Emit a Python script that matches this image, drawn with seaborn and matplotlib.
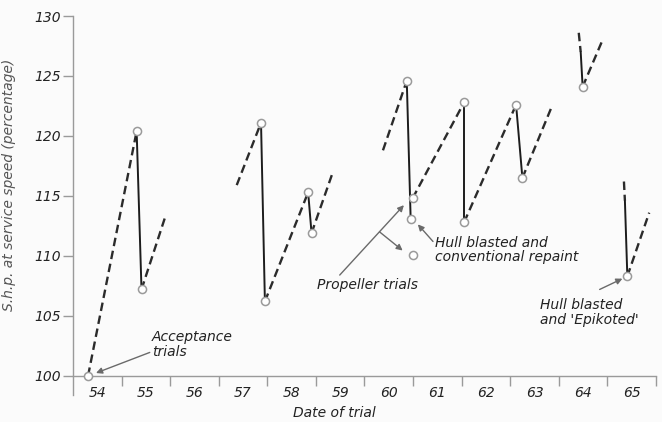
import matplotlib
matplotlib.use("Agg")
import matplotlib.pyplot as plt
import seaborn as sns
import pandas as pd

# ---------------- data ----------------
# dashed "deterioration" trends between trials
trend_start_year = [54.31, 55.41, 57.37, 57.95, 58.91, 60.38, 60.99, 62.05, 63.25, 64.41, 64.49, 65.34, 65.41]
trend_start_shp  = [100.0, 107.2, 115.9, 106.2, 111.9, 118.8, 114.8, 112.8, 116.5, 128.6, 124.1, 116.2, 108.3]
trend_end_year   = [55.31, 55.91, 57.87, 58.84, 59.35, 60.87, 62.05, 63.12, 63.85, 64.45, 64.90, 65.36, 65.86]
trend_end_shp    = [120.4, 113.4, 121.1, 115.3, 117.0, 124.6, 122.8, 122.6, 122.4, 127.0, 128.0, 114.6, 113.6]

# solid drops (docking / cleaning)
drop_start_year = [55.31, 57.87, 58.84, 60.87, 62.05, 63.12, 64.45, 65.36]
drop_start_shp  = [120.4, 121.1, 115.3, 124.6, 122.8, 122.6, 127.0, 114.6]
drop_end_year   = [55.41, 57.95, 58.91, 60.95, 62.05, 63.25, 64.49, 65.41]
drop_end_shp    = [107.2, 106.2, 111.9, 113.1, 112.8, 116.5, 124.1, 108.3]

# trial points (open circles)
trial_year = [54.31, 55.31, 55.41, 57.87, 57.95, 58.84, 58.91, 60.87, 60.99, 60.95, 60.99,
              62.05, 62.05, 63.12, 63.25, 64.49, 65.41]
trial_shp  = [100.0, 120.4, 107.2, 121.1, 106.2, 115.3, 111.9, 124.6, 114.8, 113.1, 110.1,
              122.8, 112.8, 122.6, 116.5, 124.1, 108.3]

year_labels = ["54", "55", "56", "57", "58", "59", "60", "61", "62", "63", "64", "65"]
y_ticks = [100, 105, 110, 115, 120, 125, 130]


def segments_frame(x0, y0, x1, y1):
    rows = []
    for i, (a, b, c, d) in enumerate(zip(x0, y0, x1, y1)):
        rows.append({"seg": i, "order": 0, "year": a, "shp": b})
        rows.append({"seg": i, "order": 1, "year": c, "shp": d})
    return pd.DataFrame(rows)


trends = segments_frame(trend_start_year, trend_start_shp, trend_end_year, trend_end_shp)
drops = segments_frame(drop_start_year, drop_start_shp, drop_end_year, drop_end_shp)
trials = pd.DataFrame({"year": trial_year, "shp": trial_shp})

# ---------------- figure ----------------
sns.set_theme(style="white")
plt.rcParams["font.family"] = ["DejaVu Sans"]
plt.rcParams["font.style"] = "italic"

BG = "#fbfbfb"
fig = plt.figure(figsize=(6.62, 4.22), dpi=100, facecolor=BG)
ax = fig.add_axes([73 / 662, 1 - 395 / 422, 583 / 662, 379 / 422])
ax.set_facecolor(BG)

sns.lineplot(data=trends, x="year", y="shp", units="seg", estimator=None, sort=False,
             color="#2b2b2b", lw=1.7, linestyle=(0, (3.6, 2.0)), ax=ax, legend=False)
sns.lineplot(data=drops, x="year", y="shp", units="seg", estimator=None, sort=False,
             color="#1c1c1c", lw=1.4, ax=ax, legend=False)
sns.scatterplot(data=trials, x="year", y="shp", s=34, marker="o", facecolor="white",
                edgecolor="#9a9a9a", linewidth=1.1, zorder=5, ax=ax, legend=False)

ax.set_xlim(54, 66)
ax.set_ylim(98.4, 130)

# spines
for s in ["top", "right"]:
    ax.spines[s].set_visible(False)
ax.spines["bottom"].set_position(("data", 100))
ax.spines["bottom"].set_color("#9a9a9a")
ax.spines["left"].set_color("#9a9a9a")
ax.spines["bottom"].set_linewidth(1.0)
ax.spines["left"].set_linewidth(1.0)

# ticks
ax.set_yticks(y_ticks)
ax.set_yticklabels([str(v) for v in y_ticks])
ax.tick_params(axis="y", direction="out", length=7, width=1, color="#9a9a9a",
               labelsize=10, labelcolor="#222222", pad=2, left=True)
ax.set_xticks([55 + i for i in range(12)])
ax.set_xticklabels([])
ax.set_xticks([54.5 + i for i in range(12)], minor=True)
ax.set_xticklabels(year_labels, minor=True)
ax.tick_params(axis="x", which="major", direction="out", length=7, width=1,
               color="#9a9a9a", bottom=True)
ax.tick_params(axis="x", which="minor", length=0, pad=7, labelsize=10,
               labelcolor="#222222", bottom=True)
for lab in ax.get_xticklabels(minor=True) + ax.get_yticklabels():
    lab.set_fontstyle("italic")

ax.set_xlabel("Date of trial", fontsize=10, color="#222222", style="italic")
ax.xaxis.set_label_coords(0.449, -0.03)
ax.set_ylabel("S.h.p. at service speed (percentage)", fontsize=10, color="#555555",
              style="italic")
ax.yaxis.set_label_coords(-0.097, 0.555)
ax.grid(False)

# ---------------- annotations ----------------
txt_kw = dict(fontsize=10, color="#222222", style="italic", linespacing=1.05)
arrow_kw = dict(arrowstyle="-|>", color="#6a6a6a", lw=1.0, mutation_scale=9,
                shrinkA=0, shrinkB=2)

ax.text(55.62, 102.6, "Acceptance\ntrials", ha="left", va="center", **txt_kw)
ax.annotate("", xy=(54.42, 100.15), xytext=(55.58, 101.95), arrowprops=arrow_kw)

ax.text(61.45, 110.5, "Hull blasted and\nconventional repaint", ha="left", va="center", **txt_kw)
ax.annotate("", xy=(61.06, 112.8), xytext=(61.41, 111.2), arrowprops=arrow_kw)

ax.text(59.02, 107.6, "Propeller trials", ha="left", va="center", **txt_kw)
ax.annotate("", xy=(60.85, 114.4), xytext=(59.49, 108.4), arrowprops=arrow_kw)
ax.annotate("", xy=(60.83, 110.3), xytext=(60.31, 112.0), arrowprops=arrow_kw)

ax.text(63.62, 105.3, "Hull blasted\nand 'Epikoted'", ha="left", va="center", **txt_kw)
ax.annotate("", xy=(65.36, 108.2), xytext=(64.84, 107.2), arrowprops=arrow_kw)

fig.savefig("out.png", dpi=100, facecolor=BG)
